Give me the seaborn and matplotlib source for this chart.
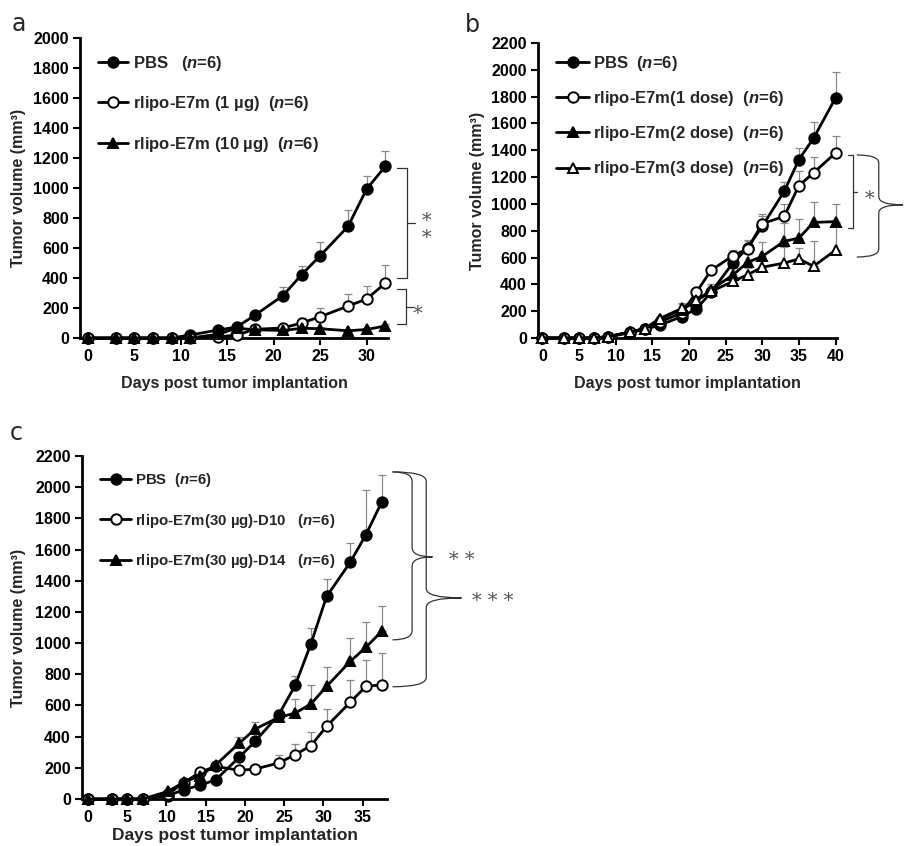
import matplotlib
matplotlib.use("Agg")
import numpy as np
import pandas as pd
import seaborn as sns
import matplotlib.pyplot as plt
from matplotlib.path import Path
from matplotlib.patches import PathPatch

# --- Data ---
days_a = [0, 3, 5, 7, 9, 11, 14, 16, 18, 21, 23, 25, 28, 30, 32]
pbs_a = [0, 0, 0, 0, 0, 20, 53, 73, 153, 283, 422, 549, 744, 993, 1144]
pbs_a_err = [0, 0, 0, 0, 0, 5, 10, 12, 18, 57, 56, 91, 107, 89, 105]
e7m1_a = [0, 0, 0, 0, 0, 0, 7, 20, 58, 67, 100, 142, 213, 260, 365]
e7m1_a_err = [0, 0, 0, 0, 0, 0, 3, 5, 10, 15, 30, 55, 83, 87, 124]
e7m10_a = [0, 0, 0, 0, 0, 0, 25, 65, 55, 50, 65, 62, 48, 57, 80]
e7m10_a_err = [0, 0, 0, 0, 0, 0, 5, 10, 8, 8, 10, 10, 8, 10, 12]

days_b = [0, 3, 5, 7, 9, 12, 14, 16, 19, 21, 23, 26, 28, 30, 33, 35, 37, 40]
pbs_b = [0, 0, 0, 0, 8, 40, 65, 95, 160, 216, 340, 560, 671, 833, 1094, 1330, 1490, 1790]
pbs_b_err = [0, 0, 0, 0, 3, 8, 10, 15, 20, 25, 30, 40, 60, 80, 70, 84, 120, 195]
d1_b = [0, 0, 0, 0, 10, 45, 70, 120, 186, 340, 504, 614, 665, 853, 907, 1136, 1232, 1380]
d1_b_err = [0, 0, 0, 0, 3, 8, 10, 15, 20, 25, 30, 40, 60, 70, 90, 112, 115, 128]
d2_b = [0, 0, 0, 0, 10, 45, 70, 140, 211, 273, 360, 470, 564, 609, 721, 745, 862, 868]
d2_b_err = [0, 0, 0, 0, 3, 8, 10, 20, 45, 30, 40, 50, 60, 110, 140, 145, 150, 135]
d3_b = [0, 0, 0, 0, 10, 45, 70, 145, 220, 280, 347, 422, 472, 528, 559, 590, 535, 655]
d3_b_err = [0, 0, 0, 0, 3, 8, 10, 20, 40, 30, 40, 50, 50, 60, 120, 80, 185, 200]

days_c = [0, 3, 5, 7, 10.2, 12.2, 14.3, 16.3, 19.3, 21.3, 24.3, 26.4, 28.4, 30.4, 33.4, 35.4, 37.4]
pbs_c = [0, 0, 0, 0, 21, 60, 88, 124, 269, 370, 540, 729, 994, 1299, 1517, 1694, 1902]
pbs_c_err = [0, 0, 0, 0, 5, 10, 12, 15, 25, 30, 32, 57, 102, 111, 128, 289, 177]
d10_c = [0, 0, 0, 0, 32, 103, 173, 209, 184, 192, 231, 284, 342, 466, 620, 722, 733]
d10_c_err = [0, 0, 0, 0, 5, 10, 15, 20, 20, 20, 53, 71, 85, 111, 145, 171, 203]
d14_c = [0, 0, 0, 0, 49, 107, 150, 220, 359, 449, 523, 551, 609, 722, 882, 972, 1075]
d14_c_err = [0, 0, 0, 0, 5, 10, 15, 20, 38, 42, 50, 90, 120, 124, 150, 163, 160]

# --- Style ---
sns.set_style("ticks")
plt.rcParams["font.family"] = ["Liberation Sans", "DejaVu Sans"]
plt.rcParams["font.weight"] = "bold"
plt.rcParams["mathtext.fontset"] = "custom"
plt.rcParams["mathtext.it"] = "Liberation Sans:italic:bold"
plt.rcParams["mathtext.rm"] = "Liberation Sans:bold"

W, H = 909, 846
fig = plt.figure(figsize=(W / 100, H / 100), dpi=100)


def px_axes(left, right, top, bottom):
    return fig.add_axes([left / W, 1 - bottom / H, (right - left) / W, (bottom - top) / H])


def draw_series(ax, days, vals, errs, label, marker, face):
    ax.errorbar(days, vals, yerr=[np.zeros(len(errs)), errs], fmt="none",
                ecolor="#8a8a8a", elinewidth=0.9, capsize=3, capthick=0.9,
                zorder=2, clip_on=False)
    df = pd.DataFrame({"day": days, "vol": vals})
    sns.lineplot(data=df, x="day", y="vol", ax=ax, color="black", linewidth=2.0,
                 marker=marker, markersize=7.5, markerfacecolor=face,
                 markeredgecolor="black", markeredgewidth=1.4, label=label,
                 zorder=3, clip_on=False)


def style_axes(ax, xlim, ylim, ystep, xlab_y, ylab_x, xlab_size=11.5):
    ax.set_xlim(*xlim)
    ax.set_ylim(*ylim)
    ax.set_xticks(np.arange(0, xlim[1] + 0.01, 5))
    ax.set_yticks(np.arange(0, ylim[1] + 1, ystep))
    sns.despine(ax=ax)
    for s in ["left", "bottom"]:
        ax.spines[s].set_linewidth(2)
        ax.spines[s].set_color("black")
    ax.tick_params(direction="out", length=5, width=1.5, labelsize=11.5, pad=3, colors="black")
    ax.set_xlabel("Days post tumor implantation", fontsize=xlab_size, fontweight="bold")
    ax.set_ylabel("Tumor volume (mm³)", fontsize=11.5, fontweight="bold")
    ax.xaxis.set_label_coords(0.5, xlab_y)
    ax.yaxis.set_label_coords(ylab_x, 0.5)


def legend(ax, y, spacing, hl, fs=12, pad=0.25):
    ax.legend(loc="upper left", bbox_to_anchor=(0.06, y), frameon=False, fontsize=fs,
              handlelength=hl, handletextpad=pad, labelspacing=spacing,
              borderpad=0, borderaxespad=0)


def sq_bracket(ax, x0, x1, xt, ytop, ybot, ymid):
    kw = dict(color="#333333", lw=0.9, clip_on=False)
    ax.plot([x0, x1, x1, x0], [ytop, ytop, ybot, ybot], **kw)
    ax.plot([x1, xt], [ymid, ymid], **kw)


def brace(ax, x0, x1, xt, ytop, ybot, ytip, r):
    verts = [(x0, ytop), (x1, ytop), (x1, ytop - r),
             (x1, ytip + r),
             (x1, ytip), (xt, ytip),
             (x1, ytip), (x1, ytip - r),
             (x1, ybot + r),
             (x1, ybot), (x0, ybot)]
    codes = [Path.MOVETO, Path.CURVE3, Path.CURVE3, Path.LINETO,
             Path.CURVE3, Path.CURVE3, Path.CURVE3, Path.CURVE3,
             Path.LINETO, Path.CURVE3, Path.CURVE3]
    ax.add_patch(PathPatch(Path(verts, codes), fill=False, edgecolor="#333333",
                           lw=0.9, clip_on=False))


def stars(ax, x, y, s):
    ax.text(x, y, s, fontsize=14, color="#555555", family="DejaVu Serif",
            fontweight="normal", ha="center", va="center", clip_on=False)


# --- Panel a ---
ax_a = px_axes(80, 388, 38, 338)
draw_series(ax_a, days_a, pbs_a, pbs_a_err, "PBS   ($n$=6)", "o", "black")
draw_series(ax_a, days_a, e7m1_a, e7m1_a_err, "rlipo-E7m (1 µg)  ($n$=6)", "o", "white")
draw_series(ax_a, days_a, e7m10_a, e7m10_a_err, "rlipo-E7m (10 µg)  ($n$=6)", "^", "black")
style_axes(ax_a, (-0.86, 32.3), (0, 2000), 200, -0.127, -0.175)
legend(ax_a, 0.948, 1.3, 1.8)
sq_bracket(ax_a, 33.3, 34.3, 35.2, 1133, 400, 767)
stars(ax_a, 36.5, 783, "*")
stars(ax_a, 36.5, 670, "*")
sq_bracket(ax_a, 33.3, 34.2, 35.0, 327, 93, 207)
stars(ax_a, 35.5, 158, "*")

# --- Panel b ---
ax_b = px_axes(538, 837, 43, 338)
draw_series(ax_b, days_b, pbs_b, pbs_b_err, "PBS  ($n$=6)", "o", "black")
draw_series(ax_b, days_b, d1_b, d1_b_err, "rlipo-E7m(1 dose)  ($n$=6)", "o", "white")
draw_series(ax_b, days_b, d2_b, d2_b_err, "rlipo-E7m(2 dose)  ($n$=6)", "^", "black")
draw_series(ax_b, days_b, d3_b, d3_b_err, "rlipo-E7m(3 dose)  ($n$=6)", "^", "white")
style_axes(ax_b, (-0.6, 40.2), (0, 2200), 200, -0.128, -0.177)
legend(ax_b, 0.963, 0.97, 2.0)
sq_bracket(ax_b, 41.7, 42.4, 42.9, 1365, 820, 1090)
stars(ax_b, 44.7, 1035, "*")
brace(ax_b, 42.9, 45.9, 49.2, 1365, 604, 993, 60)

# --- Panel c ---
ax_c = px_axes(82, 387, 456, 799)
draw_series(ax_c, days_c, pbs_c, pbs_c_err, "PBS  ($n$=6)", "o", "black")
draw_series(ax_c, days_c, d10_c, d10_c_err, "rlipo-E7m(30 µg)-D10   ($n$=6)", "o", "white")
draw_series(ax_c, days_c, d14_c, d14_c_err, "rlipo-E7m(30 µg)-D14   ($n$=6)", "^", "black")
style_axes(ax_c, (-0.76, 38.1), (0, 2200), 200, -0.085, -0.184, xlab_size=12.5)
legend(ax_c, 0.955, 1.48, 2.07, fs=10.8, pad=0.27)
brace(ax_c, 38.8, 41.3, 43.9, 2098, 1021, 1553, 60)
brace(ax_c, 38.8, 43.1, 47.6, 2098, 720, 1290, 60)
stars(ax_c, 47.6, 1535, "* *")
stars(ax_c, 51.6, 1272, "* * *")

# panel letters
for x, y, s in [(12, 31, "a"), (465, 32, "b"), (10, 440, "c")]:
    fig.text(x / W, 1 - y / H, s, fontsize=17, fontweight="normal",
             family="DejaVu Sans", ha="left", va="baseline")

fig.savefig("out.png", dpi=100)
